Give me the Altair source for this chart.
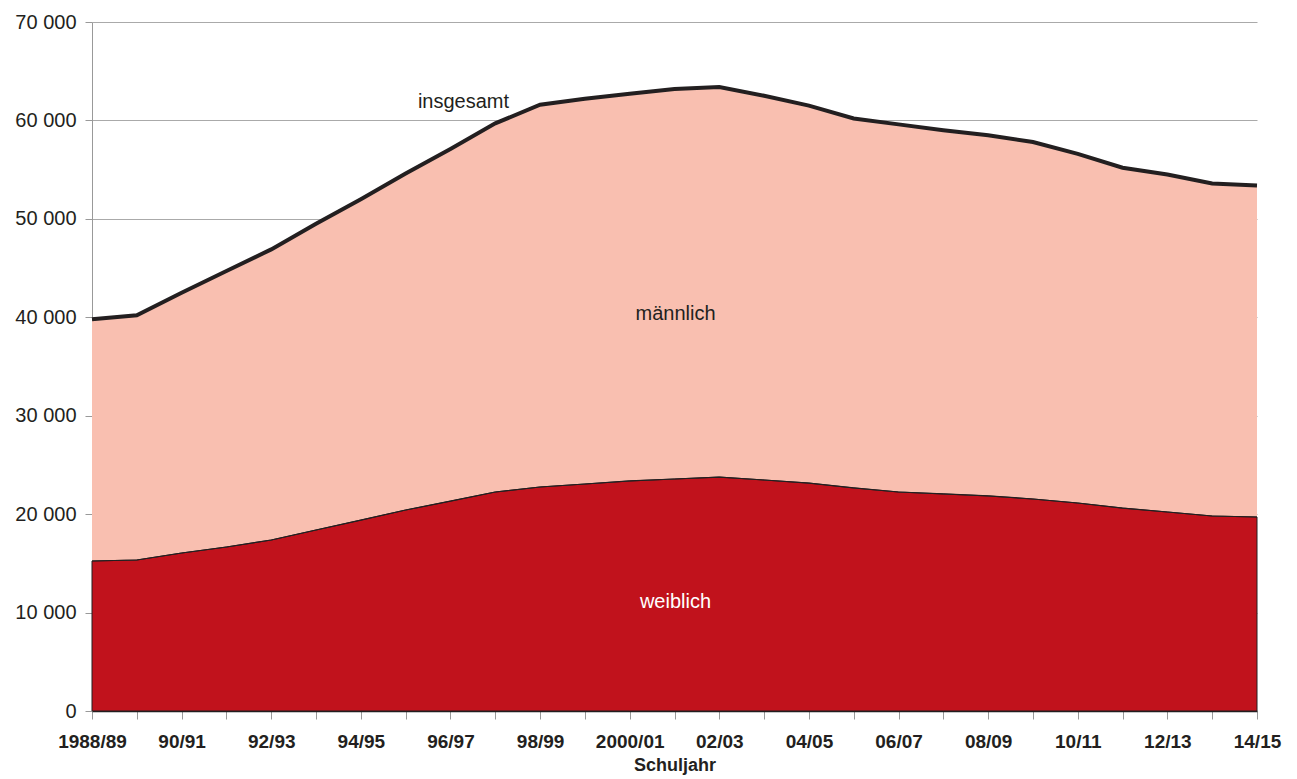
import json
import altair as alt
import pandas as pd

years = ["1988/89", "89/90", "90/91", "91/92", "92/93", "93/94", "94/95", "95/96",
         "96/97", "97/98", "98/99", "99/2000", "2000/01", "01/02", "02/03", "03/04",
         "04/05", "05/06", "06/07", "07/08", "08/09", "09/10", "10/11", "11/12",
         "12/13", "13/14", "14/15"]
weiblich = [15240, 15340, 16050, 16660, 17370, 18390, 19400, 20420, 21330, 22250,
            22760, 23060, 23370, 23570, 23770, 23470, 23160, 22660, 22250, 22050,
            21850, 21540, 21130, 20620, 20220, 19810, 19710]
insgesamt = [39800, 40200, 42500, 44700, 46900, 49500, 52000, 54600, 57100, 59700,
             61600, 62200, 62700, 63200, 63400, 62500, 61500, 60200, 59600, 59000,
             58500, 57800, 56600, 55200, 54500, 53600, 53400]
shown_labels = years[::2]

ann_text = ["insgesamt", "männlich", "weiblich"]
ann_year = ["96/97", "01/02", "01/02"]
ann_value = [61900, 40300, 11100]
ann_color = ["#231f20", "#231f20", "#ffffff"]
ann_dx = [13, 1, 1]

df = pd.DataFrame({"jahr": years, "weiblich": weiblich, "insgesamt": insgesamt})
ann = pd.DataFrame({"text": ann_text, "jahr": ann_year, "wert": ann_value,
                    "farbe": ann_color, "dx": ann_dx})

label_expr = "indexof(" + json.dumps(shown_labels) + ", datum.value) >= 0 ? datum.value : ''"

x = alt.X("jahr:O", sort=years, scale=alt.Scale(type="point", padding=0),
          axis=alt.Axis(title="Schuljahr", labelExpr=label_expr, labelAngle=0,
                        domainColor="#231f20", domainWidth=1.5, tickColor="#999999",
                        tickSize=8, labelPadding=13, labelFont="Liberation Sans",
                        labelFontSize=19, labelFontWeight="bold", labelColor="#231f20",
                        titleFont="Liberation Sans", titleFontSize=18,
                        titleFontWeight="bold", titleColor="#231f20", titlePadding=5,
                        grid=False))
yscale = alt.Scale(domain=[0, 70000], nice=False)
yaxis = alt.Axis(title=None, values=list(range(0, 70001, 10000)),
                 labelExpr="replace(format(datum.value, ','), ',', ' ')",
                 labelFont="Liberation Sans", labelFontSize=20, labelColor="#231f20",
                 tickColor="#999999", tickSize=7, labelPadding=9,
                 domainColor="#999999", grid=True, gridColor="#aaaaaa", gridWidth=1)

base = alt.Chart(df)

male_area = base.mark_area(color="#f9bfb0", opacity=1).encode(
    x=x, y=alt.Y("insgesamt:Q", scale=yscale, axis=yaxis), y2="weiblich:Q")
female_area = base.mark_area(color="#c1121c", opacity=1, stroke="#231f20", strokeWidth=1).encode(
    x=x, y=alt.Y("weiblich:Q", scale=yscale, axis=yaxis))
female_line = base.mark_line(color="#231f20", strokeWidth=1.2).encode(
    x=x, y=alt.Y("weiblich:Q", scale=yscale))
total_line = base.mark_line(color="#231f20", strokeWidth=4).encode(
    x=x, y=alt.Y("insgesamt:Q", scale=yscale))

labels = []
for i in range(len(ann_text)):
    labels.append(alt.Chart(ann.iloc[[i]]).mark_text(
        font="Liberation Sans", fontSize=20, color=ann_color[i], dx=ann_dx[i],
        align="center", baseline="middle").encode(
        x=x, y=alt.Y("wert:Q", scale=yscale), text="text:N"))

chart = alt.layer(male_area, female_area, female_line, total_line, *labels).properties(
    width=1165, height=689,
    padding={"left": 84, "top": 14, "right": 30, "bottom": 68},
    autosize=alt.AutoSizeParams(type="none"),
).configure_view(stroke=None)

chart.save("out.html", embed_options={"renderer": "svg", "actions": False})
